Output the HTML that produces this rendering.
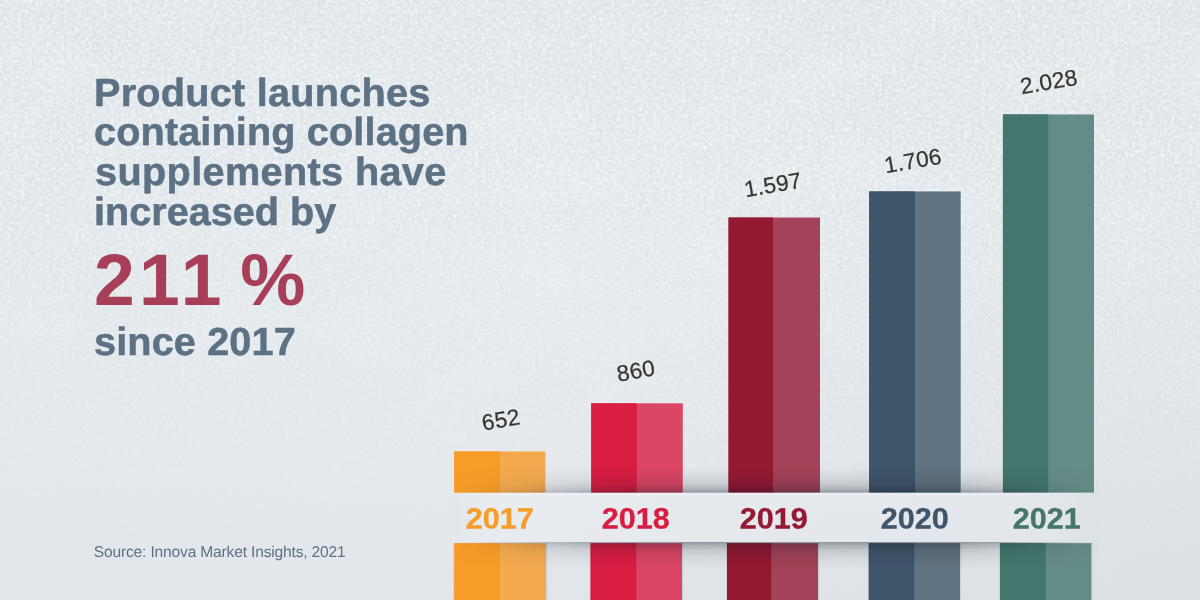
<!DOCTYPE html>
<html lang="en">
<head>
<meta charset="utf-8">
<title>Product launches containing collagen supplements</title>
<style>
  html, body { margin: 0; padding: 0; }
  body {
    width: 1200px; height: 600px; overflow: hidden; position: relative;
    background: #e3e7eb;
    font-family: "Liberation Sans", Arial, Helvetica, sans-serif;
    text-rendering: geometricPrecision;
  }
  #stage { position: absolute; left: 0; top: 0; width: 1200px; height: 600px; overflow: hidden; }
  .bg { position: absolute; inset: 0; }
  .t { position: absolute; white-space: nowrap; line-height: 1; margin: 0; }
  .title { left: 93.6px; font-weight: bold; font-size: 39.2px; color: #5c7184; -webkit-text-stroke: 0.5px #5c7184; transform: scaleX(1.012); transform-origin: 0 0; }
  .big { left: 94px; font-weight: bold; font-size: 73.2px; color: #a73f58; letter-spacing: 2px; word-spacing: -4.3px; font-kerning: none; }
  .src { left: 93.75px; font-size: 15.6px; color: #5d7286; letter-spacing: -0.18px; }
  .bars { position: absolute; left: 0; top: 0; }
  .scr { position: absolute; left: 0; top: 0; opacity: 0.7;
      -webkit-mask-image: linear-gradient(to bottom, #000 0%, #000 40%, rgba(0,0,0,0.35) 65%, rgba(0,0,0,0) 85%);
      mask-image: linear-gradient(to bottom, #000 0%, #000 40%, rgba(0,0,0,0.35) 65%, rgba(0,0,0,0) 85%); }
  .bg, .band { background-image:
      radial-gradient(ellipse 700px 420px at 1200px 600px, rgba(218,223,228,0.85), rgba(218,223,228,0) 100%),
      radial-gradient(ellipse 420px 300px at 1200px 0px, rgba(221,226,229,0.5), rgba(221,226,229,0) 100%),
      radial-gradient(ellipse 520px 300px at 560px 280px, rgba(234,238,241,0.3), rgba(234,238,241,0) 100%),
      linear-gradient(to bottom, #dde3e6 0%, #dee4e7 30%, #e2e7ea 55%, #e4e8ec 80%, #e2e6ea 100%);
      background-size: 1200px 600px; background-repeat: no-repeat; }
  .noise { position: absolute; left: 0; top: 0; width: 1200px; height: 600px; opacity: 0.8;
      -webkit-mask-image: linear-gradient(to bottom, #000 0%, #000 30%, rgba(0,0,0,0.5) 55%, rgba(0,0,0,0.15) 80%, rgba(0,0,0,0.05) 100%);
      mask-image: linear-gradient(to bottom, #000 0%, #000 30%, rgba(0,0,0,0.5) 55%, rgba(0,0,0,0.15) 80%, rgba(0,0,0,0.05) 100%); }
  .sh { position: absolute; left: 452px; width: 646px; height: 28px;
      -webkit-mask-image: linear-gradient(to right, rgba(0,0,0,0.00) 0.0%, rgba(0,0,0,0.15) 4.3%, rgba(0,0,0,0.40) 10.5%, rgba(0,0,0,0.60) 15.2%, rgba(0,0,0,0.80) 21.4%, rgba(0,0,0,1.00) 29.1%, rgba(0,0,0,1.00) 78.6%, rgba(0,0,0,0.80) 84.8%, rgba(0,0,0,0.45) 91.0%, rgba(0,0,0,0.15) 97.2%, rgba(0,0,0,0.03) 100.0%);
      mask-image: linear-gradient(to right, rgba(0,0,0,0.00) 0.0%, rgba(0,0,0,0.15) 4.3%, rgba(0,0,0,0.40) 10.5%, rgba(0,0,0,0.60) 15.2%, rgba(0,0,0,0.80) 21.4%, rgba(0,0,0,1.00) 29.1%, rgba(0,0,0,1.00) 78.6%, rgba(0,0,0,0.80) 84.8%, rgba(0,0,0,0.45) 91.0%, rgba(0,0,0,0.15) 97.2%, rgba(0,0,0,0.03) 100.0%); }
  .sh.up { top: 466px; background: linear-gradient(to top, rgba(10,20,30,0.38) 0, rgba(10,20,30,0.38) 1.2px, rgba(10,20,30,0.30) 3px, rgba(10,20,30,0.23) 5.2px, rgba(10,20,30,0.14) 9.2px, rgba(10,20,30,0.075) 15.2px, rgba(10,20,30,0.035) 21.2px, rgba(10,20,30,0) 28px); }
  .sh.dn { top: 541px; background: linear-gradient(to bottom, rgba(10,20,30,0.38) 0, rgba(10,20,30,0.38) 1.2px, rgba(10,20,30,0.30) 3px, rgba(10,20,30,0.23) 5.2px, rgba(10,20,30,0.14) 9.2px, rgba(10,20,30,0.075) 15.2px, rgba(10,20,30,0.035) 21.2px, rgba(10,20,30,0) 28px); }
  .band { position: absolute; left: 452px; top: 492px; width: 646px; height: 51px; background-position: -452px -492px; clip-path: inset(0.8px 0 0.9px 0); }
  .band::after { content: ""; position: absolute; inset: 0; background: rgba(255,255,255,0.16);
      -webkit-mask-image: linear-gradient(to right, rgba(0,0,0,0) 0%, #000 6%, #000 92%, rgba(0,0,0,0) 100%);
      mask-image: linear-gradient(to right, rgba(0,0,0,0) 0%, #000 6%, #000 92%, rgba(0,0,0,0) 100%); }
  .band::before { content: ""; position: absolute; left: 0; right: 0; top: 1px; height: 4px;
      background: linear-gradient(to bottom, rgba(255,255,255,0.35), rgba(255,255,255,0));
      -webkit-mask-image: linear-gradient(to right, rgba(0,0,0,0) 0%, #000 12%, #000 85%, rgba(0,0,0,0) 98%);
      mask-image: linear-gradient(to right, rgba(0,0,0,0) 0%, #000 12%, #000 85%, rgba(0,0,0,0) 98%); }
  .yr { position: absolute; top: 504.2px; font-weight: bold; font-size: 29.5px; line-height: 30px; white-space: nowrap; text-align: center; letter-spacing: 0.05px; -webkit-text-stroke: 0.3px currentColor; transform: translate(-0.2px, 0.5px) skewY(0.03deg) scale(1.037, 1.0); transform-origin: 50% 0; }
  .val { position: absolute; font-size: 22.6px; line-height: 23px; letter-spacing: 0.25px; color: #353535; -webkit-text-stroke: 0.25px #353535; white-space: nowrap; transform: translate(-50%,-50%) rotate(-9.7deg); }
</style>
</head>
<body>
<div id="stage">
  <div class="bg"></div>
  <svg class="noise" width="1200" height="600" viewBox="0 0 1200 600" aria-hidden="true">
    <filter id="nz" x="0" y="0" width="100%" height="100%" color-interpolation-filters="sRGB">
      <feTurbulence type="fractalNoise" baseFrequency="0.28" numOctaves="4" seed="7"/>
      <feColorMatrix type="matrix" values="0 0 0 0 0.96  0 0 0 0 0.975  0 0 0 0 0.985  1.5 1.5 0 0 -1.18"/>
    </filter>
    <rect width="1200" height="600" filter="url(#nz)"/>
  </svg>
  <svg class="scr" width="1200" height="600" viewBox="0 0 1200 600" aria-hidden="true">
    <filter id="blot" x="0" y="0" width="100%" height="100%" color-interpolation-filters="sRGB">
      <feTurbulence type="fractalNoise" baseFrequency="0.012 0.02" numOctaves="3" seed="3"/>
      <feColorMatrix type="matrix" values="0 0 0 0 1  0 0 0 0 1  0 0 0 0 1  1.6 0 0 0 -0.62"/>
    </filter>
    <rect width="1200" height="600" filter="url(#blot)" opacity="0.25"/>
    <g stroke="#fff" fill="none" stroke-linecap="round">
      <line x1="538" y1="211" x2="702" y2="365" stroke-width="0.8" opacity="0.28"/>
      <line x1="748" y1="50" x2="880" y2="77" stroke-width="1.1" opacity="0.11"/>
      <line x1="1204" y1="251" x2="1352" y2="329" stroke-width="1.0" opacity="0.06"/>
      <line x1="730" y1="305" x2="674" y2="402" stroke-width="0.9" opacity="0.13"/>
      <line x1="545" y1="90" x2="333" y2="202" stroke-width="0.8" opacity="0.27"/>
      <line x1="-11" y1="212" x2="52" y2="242" stroke-width="0.5" opacity="0.29"/>
      <line x1="223" y1="361" x2="358" y2="331" stroke-width="0.9" opacity="0.09"/>
      <line x1="388" y1="104" x2="440" y2="94" stroke-width="0.5" opacity="0.12"/>
      <line x1="986" y1="46" x2="1102" y2="152" stroke-width="0.7" opacity="0.19"/>
      <line x1="463" y1="396" x2="486" y2="440" stroke-width="0.7" opacity="0.09"/>
      <line x1="1061" y1="246" x2="1129" y2="237" stroke-width="0.7" opacity="0.17"/>
      <line x1="45" y1="9" x2="-78" y2="112" stroke-width="0.9" opacity="0.13"/>
      <line x1="1032" y1="28" x2="1154" y2="11" stroke-width="0.6" opacity="0.15"/>
      <line x1="911" y1="374" x2="833" y2="413" stroke-width="0.6" opacity="0.07"/>
      <line x1="616" y1="80" x2="491" y2="223" stroke-width="0.6" opacity="0.16"/>
      <line x1="886" y1="-0" x2="804" y2="43" stroke-width="1.0" opacity="0.15"/>
      <line x1="924" y1="-0" x2="1051" y2="-15" stroke-width="0.6" opacity="0.23"/>
      <line x1="421" y1="353" x2="563" y2="541" stroke-width="1.1" opacity="0.14"/>
      <line x1="567" y1="124" x2="669" y2="164" stroke-width="0.7" opacity="0.26"/>
      <line x1="1249" y1="2" x2="1402" y2="21" stroke-width="1.1" opacity="0.13"/>
      <line x1="394" y1="7" x2="522" y2="63" stroke-width="0.8" opacity="0.29"/>
      <line x1="762" y1="134" x2="697" y2="281" stroke-width="0.9" opacity="0.29"/>
      <line x1="455" y1="286" x2="612" y2="251" stroke-width="0.9" opacity="0.06"/>
      <line x1="575" y1="69" x2="434" y2="185" stroke-width="0.7" opacity="0.30"/>
      <line x1="136" y1="233" x2="47" y2="351" stroke-width="0.7" opacity="0.30"/>
      <line x1="816" y1="55" x2="695" y2="110" stroke-width="1.1" opacity="0.15"/>
      <line x1="223" y1="28" x2="179" y2="136" stroke-width="0.6" opacity="0.28"/>
      <line x1="563" y1="368" x2="770" y2="387" stroke-width="1.1" opacity="0.17"/>
      <line x1="538" y1="2" x2="594" y2="8" stroke-width="0.9" opacity="0.18"/>
      <line x1="683" y1="246" x2="794" y2="308" stroke-width="1.1" opacity="0.28"/>
      <line x1="100" y1="17" x2="193" y2="136" stroke-width="0.8" opacity="0.14"/>
      <line x1="182" y1="-25" x2="115" y2="97" stroke-width="1.1" opacity="0.22"/>
      <line x1="601" y1="399" x2="535" y2="445" stroke-width="0.9" opacity="0.18"/>
      <line x1="119" y1="165" x2="288" y2="171" stroke-width="1.1" opacity="0.28"/>
      <line x1="553" y1="250" x2="642" y2="257" stroke-width="0.6" opacity="0.08"/>
      <line x1="457" y1="8" x2="565" y2="-6" stroke-width="0.7" opacity="0.29"/>
      <line x1="58" y1="160" x2="139" y2="291" stroke-width="0.5" opacity="0.19"/>
      <line x1="643" y1="265" x2="862" y2="312" stroke-width="0.9" opacity="0.17"/>
      <line x1="1179" y1="182" x2="1061" y2="379" stroke-width="0.8" opacity="0.28"/>
      <line x1="164" y1="191" x2="380" y2="244" stroke-width="1.0" opacity="0.15"/>
      <line x1="1209" y1="195" x2="1368" y2="196" stroke-width="0.8" opacity="0.18"/>
      <line x1="7" y1="364" x2="61" y2="508" stroke-width="0.8" opacity="0.07"/>
      <line x1="488" y1="381" x2="332" y2="545" stroke-width="1.1" opacity="0.18"/>
      <line x1="1146" y1="196" x2="1216" y2="187" stroke-width="0.5" opacity="0.27"/>
      <line x1="202" y1="68" x2="348" y2="174" stroke-width="0.8" opacity="0.21"/>
      <line x1="1057" y1="238" x2="1238" y2="192" stroke-width="0.8" opacity="0.19"/>
    </g>
  </svg>

  <div class="t title" id="l1" style="top:73.8px;left:93.6px;letter-spacing:0.24px">Product launches</div>
  <div class="t title" id="l2" style="top:113.2px;left:94.0px;letter-spacing:0.12px">containing collagen</div>
  <div class="t title" id="l3" style="top:152.6px;left:94.75px;letter-spacing:0.35px">supplements have</div>
  <div class="t title" id="l4" style="top:193.2px;left:94.0px;letter-spacing:-0.01px">increased by</div>
  <div class="t big" id="big" style="top:244.3px">2<span style="margin-left:2.2px">1</span><span style="margin-left:-0.8px">1</span><span style="margin-left:-1.4px"> %</span></div>
  <div class="t title" id="l5" style="top:322.9px;left:94.25px;letter-spacing:0.12px">since 2017</div>
  <div class="t src" id="src" style="top:545px">Source: Innova Market Insights, 2021</div>

  <svg class="bars" width="1200" height="600" viewBox="0 0 1200 600" aria-hidden="true">
    <g><!-- 2017 -->
      <rect x="453.60" y="450.80" width="92.50" height="43.20" fill="#fff" opacity="0.3"/>
      <rect x="454.2" y="451.4" width="91.30" height="42.60" fill="#f3aa4e"/>
      <rect x="454.2" y="451.4" width="45.80" height="42.60" fill="#f79c29"/>
      <rect x="453.50" y="543.20" width="93.70" height="58.80" fill="#7f8c9c" opacity="0.22"/>
      <rect x="454.3" y="543.2" width="91.70" height="58.80" fill="#f3aa4e"/>
      <rect x="454.3" y="543.2" width="45.70" height="58.80" fill="#f79c29"/>
    </g>
    <g><!-- 2018 -->
      <rect x="590.60" y="402.70" width="92.80" height="91.30" fill="#fff" opacity="0.3"/>
      <rect x="591.2" y="403.3" width="91.60" height="90.70" fill="#dc4665"/>
      <rect x="591.2" y="403.3" width="45.60" height="90.70" fill="#d91d42"/>
      <rect x="589.80" y="543.20" width="93.40" height="58.80" fill="#7f8c9c" opacity="0.22"/>
      <rect x="590.6" y="543.2" width="91.40" height="58.80" fill="#dc4665"/>
      <rect x="590.6" y="543.2" width="45.60" height="58.80" fill="#d91d42"/>
    </g>
    <g><!-- 2019 -->
      <rect x="727.90" y="216.90" width="92.70" height="277.10" fill="#fff" opacity="0.3"/>
      <rect x="728.5" y="217.5" width="91.50" height="276.50" fill="#a34258"/>
      <rect x="728.5" y="217.5" width="44.50" height="276.50" fill="#941932"/>
      <rect x="726.20" y="543.20" width="93.00" height="58.80" fill="#7f8c9c" opacity="0.22"/>
      <rect x="727.0" y="543.2" width="91.00" height="58.80" fill="#a34258"/>
      <rect x="727.0" y="543.2" width="44.20" height="58.80" fill="#941932"/>
    </g>
    <g><!-- 2020 -->
      <rect x="868.50" y="190.80" width="92.80" height="303.20" fill="#fff" opacity="0.3"/>
      <rect x="869.1" y="191.4" width="91.60" height="302.60" fill="#607382"/>
      <rect x="869.1" y="191.4" width="45.90" height="302.60" fill="#3f556a"/>
      <rect x="868.00" y="543.20" width="93.20" height="58.80" fill="#7f8c9c" opacity="0.22"/>
      <rect x="868.8" y="543.2" width="91.20" height="58.80" fill="#607382"/>
      <rect x="868.8" y="543.2" width="45.40" height="58.80" fill="#3f556a"/>
    </g>
    <g><!-- 2021 -->
      <rect x="1002.30" y="113.80" width="92.30" height="380.20" fill="#fff" opacity="0.3"/>
      <rect x="1002.9" y="114.4" width="91.10" height="379.60" fill="#648c86"/>
      <rect x="1002.9" y="114.4" width="45.40" height="379.60" fill="#44766e"/>
      <rect x="999.20" y="543.20" width="93.25" height="58.80" fill="#7f8c9c" opacity="0.22"/>
      <rect x="1000.0" y="543.2" width="91.25" height="58.80" fill="#648c86"/>
      <rect x="1000.0" y="543.2" width="45.70" height="58.80" fill="#44766e"/>
    </g>
  </svg>
  <div class="sh up"></div>
  <div class="sh dn"></div>
  <div class="band"></div>

  <div class="yr" id="y2017" style="left:454px;width:92px;color:#f79c29">2017</div>
  <div class="yr" id="y2018" style="left:590px;width:92px;color:#d91d42">2018</div>
  <div class="yr" id="y2019" style="left:728px;width:92px;color:#941932">2019</div>
  <div class="yr" id="y2020" style="left:869.3px;width:92px;color:#3f556a">2020</div>
  <div class="yr" id="y2021" style="left:1001.3px;width:92px;color:#44766e">2021</div>

  <div class="val" id="v652" style="left:501.3px;top:419.8px">652</div>
  <div class="val" id="v860" style="left:636px;top:370.8px">860</div>
  <div class="val" id="v1597" style="left:772.6px;top:185.3px">1.597</div>
  <div class="val" id="v1706" style="left:912.7px;top:161.3px">1.706</div>
  <div class="val" id="v2028" style="left:1049px;top:82px">2.028</div>
</div>
</body>
</html>
